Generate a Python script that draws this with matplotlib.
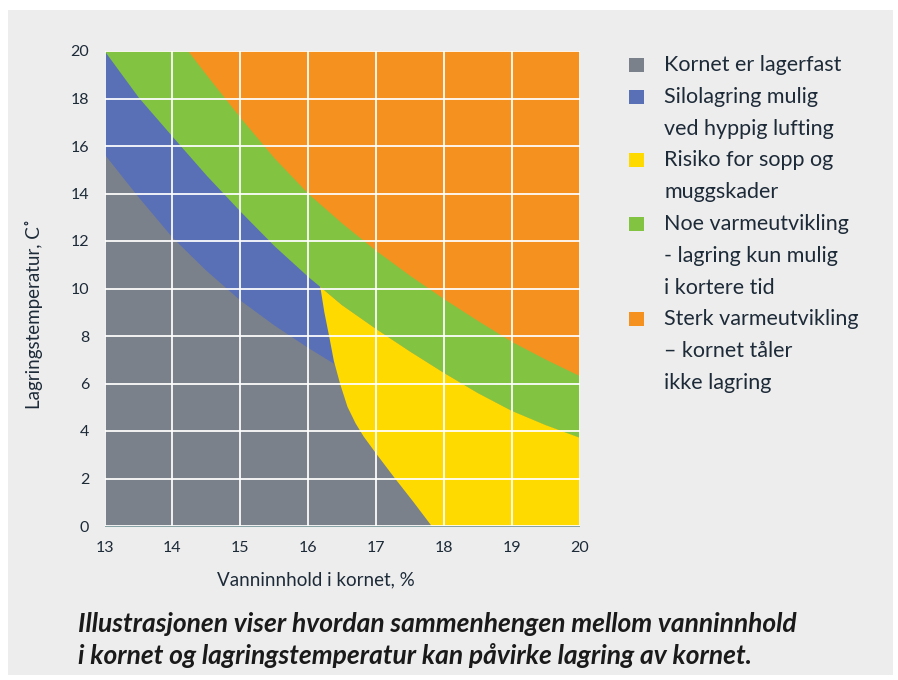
import matplotlib
matplotlib.use("Agg")
import matplotlib.pyplot as plt
from matplotlib.patches import Rectangle

# ===== data =====
# lower edge of the "blue" zone (gray / blue boundary)
gray_top_x = [13.0, 13.5, 14.0, 14.5, 15.0, 15.5, 16.0, 16.4]
gray_top_y = [15.65, 13.85, 12.15, 10.75, 9.5, 8.45, 7.5, 6.8]

# lower edge of the green zone (blue/green, then yellow/green)
green_low_x = [13.0, 13.5, 14.0, 14.5, 15.0, 15.5, 16.0, 16.18,
               16.5, 17.0, 17.5, 18.0, 18.5, 19.0, 19.5, 20.0]
green_low_y = [20.0, 18.05, 16.4, 14.77, 13.25, 11.8, 10.5, 10.07,
               9.3, 8.3, 7.35, 6.45, 5.6, 4.85, 4.25, 3.72]

# green / orange boundary
orange_low_x = [13.0, 14.23, 14.5, 15.0, 15.5, 16.0, 16.5, 17.0,
                17.5, 18.0, 18.5, 19.0, 19.5, 20.0]
orange_low_y = [20.0, 20.0, 19.0, 17.2, 15.5, 14.0, 12.75, 11.6,
                10.55, 9.57, 8.65, 7.77, 7.02, 6.33]

# left edge of the yellow zone (top -> bottom)
yellow_left_x = [16.18, 16.24, 16.31, 16.38, 16.47, 16.58, 16.70, 16.82,
                 17.0, 17.27, 17.55, 17.82]
yellow_left_y = [10.07, 9.0, 8.0, 6.95, 6.0, 5.02, 4.32, 3.76,
                 3.06, 2.04, 1.02, 0.0]

x_ticks = [13, 14, 15, 16, 17, 18, 19, 20]
y_ticks = [0, 2, 4, 6, 8, 10, 12, 14, 16, 18, 20]

legend_labels = [
    ["Kornet er lagerfast"],
    ["Silolagring mulig", "ved hyppig lufting"],
    ["Risiko for sopp og", "muggskader"],
    ["Noe varmeutvikling", "- lagring kun mulig", "i kortere tid"],
    ["Sterk varmeutvikling", "\u2013 kornet t\u00e5ler", "ikke lagring"],
]
C_GRAY = "#7b818a"
C_BLUE = "#5a70b6"
C_YELLOW = "#ffda00"
C_GREEN = "#82c341"
C_ORANGE = "#f5921f"
legend_colors = [C_GRAY, C_BLUE, C_YELLOW, C_GREEN, C_ORANGE]

caption = ["Illustrasjonen viser hvordan sammenhengen mellom vanninnhold",
           "i kornet og lagringstemperatur kan p\u00e5virke lagring av kornet."]

TXT = "#1d2a38"
plt.rcParams["font.family"] = ["Lato", "DejaVu Sans"]

W, H = 898, 680
fig = plt.figure(figsize=(W / 100, H / 100), dpi=100)
fig.patch.set_facecolor("white")
fig.patches.append(Rectangle((8 / W, 5 / H), 885 / W, 665 / H,
                             transform=fig.transFigure, facecolor="#ededed",
                             edgecolor="none", zorder=-5))

ax = fig.add_axes([104.5 / W, 154 / H, 475 / W, 475 / H])
ax.set_xlim(13, 20)
ax.set_ylim(0, 20)
ax.patch.set_alpha(0)

# paint zones from back to front
ax.fill_between([13, 20], 0, 20, color=C_ORANGE, lw=0, zorder=1)
ax.fill_between(orange_low_x, 0, orange_low_y, color=C_GREEN, lw=0, zorder=1.1)
ax.fill_between(green_low_x, 0, green_low_y, color=C_BLUE, lw=0, zorder=1.2)

gx = [13.0] + gray_top_x + yellow_left_x[3:] + [13.0]
gy = [0.0] + gray_top_y + yellow_left_y[3:] + [0.0]
ax.fill(gx, gy, color=C_GRAY, lw=0, zorder=1.3)

k = green_low_x.index(16.18)
yx = yellow_left_x + [20.0] + green_low_x[k:][::-1]
yy = yellow_left_y + [0.0] + green_low_y[k:][::-1]
ax.fill(yx, yy, color=C_YELLOW, lw=0, zorder=1.4)

ax.set_xticks(x_ticks)
ax.set_yticks(y_ticks)
ax.grid(True, color="white", lw=1.4, alpha=0.9)
ax.set_axisbelow(False)
for s in ax.spines.values():
    s.set_visible(False)
ax.tick_params(length=0, labelsize=11.5, labelcolor=TXT, pad=11)

ax.set_xlabel("Vanninnhold i kornet, %", fontsize=13.5, color=TXT)
ax.xaxis.set_label_coords(0.445, -0.096)
ax.set_ylabel("Lagringstemperatur, C\u02da", fontsize=13.5, color=TXT)
ax.yaxis.set_label_coords(-0.13, 0.447)

# legend drawn by hand
line_h = 31.8
line = 0
for labels, col in zip(legend_labels, legend_colors):
    yc = 65 + line * line_h
    fig.patches.append(Rectangle((629 / W, 1 - (yc + 7) / H), 15 / W, 14 / H,
                                 transform=fig.transFigure, facecolor=col,
                                 edgecolor="none"))
    for t in labels:
        fig.text(664 / W, 1 - (65 + line * line_h) / H, t, fontsize=15.5,
                 color=TXT, va="center", ha="left")
        line += 1

for i, t in enumerate(caption):
    fig.text(78 / W, 1 - (624 + i * 32) / H, t, fontsize=19, color="#1a1a1a",
             fontweight="bold", fontstyle="italic", va="center", ha="left")

fig.savefig("out.png", dpi=100, facecolor=fig.get_facecolor())
